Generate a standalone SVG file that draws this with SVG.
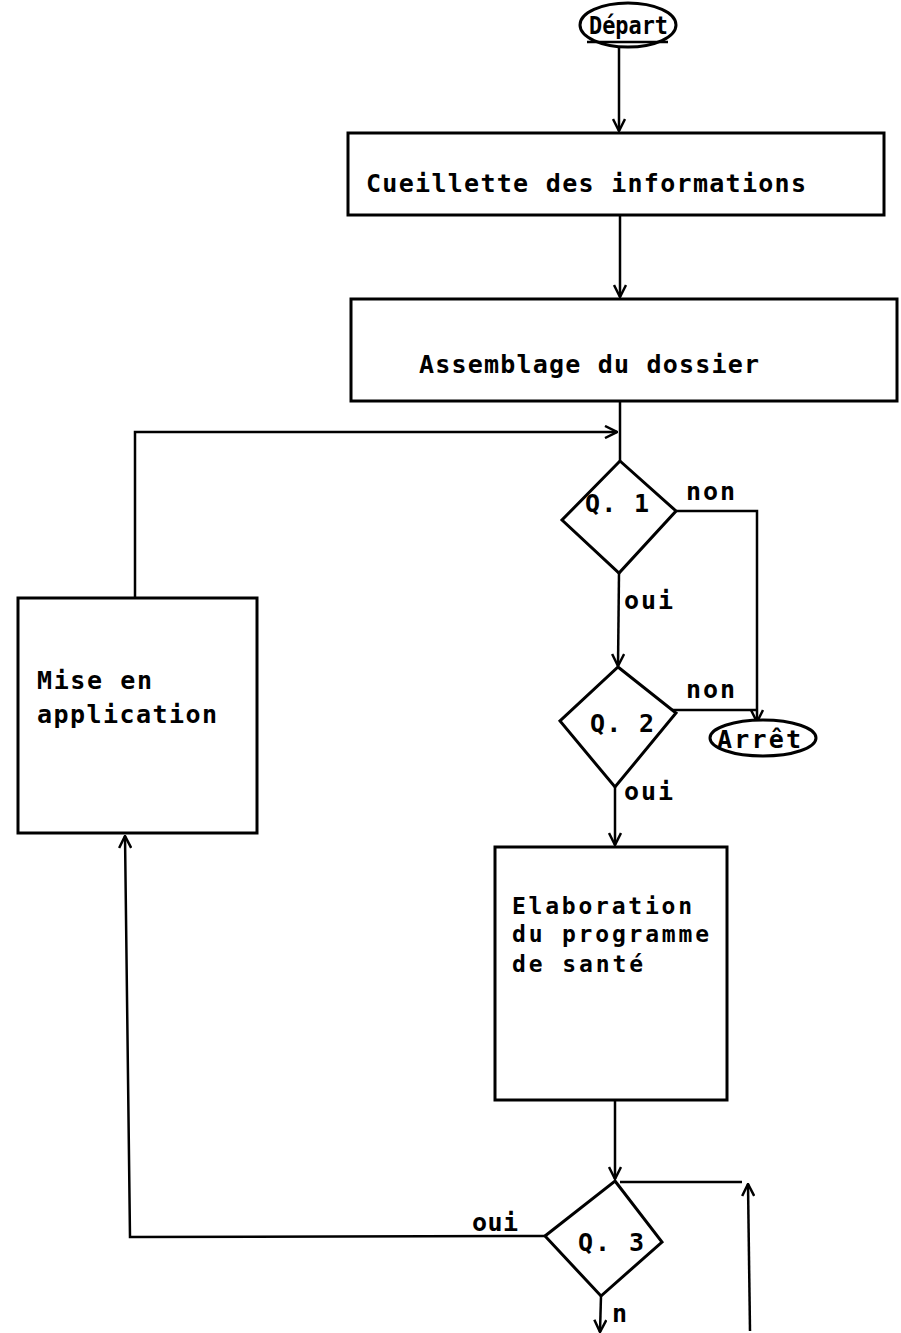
<svg xmlns="http://www.w3.org/2000/svg" width="901" height="1333" viewBox="0 0 901 1333">
<defs>
<marker id="v" viewBox="0 0 14 14" refX="13" refY="7" markerWidth="14" markerHeight="14" markerUnits="userSpaceOnUse" orient="auto"><path d="M1,1 L13,7 L1,13" fill="none" stroke="#000" stroke-width="2.5"/></marker>
</defs>
<style>
.s{fill:#fff;stroke:#000;stroke-width:3}
.c{fill:none;stroke:#000;stroke-width:2.5}
.t{font-family:"DejaVu Sans Mono","Liberation Mono",monospace;font-weight:bold;font-size:25px;fill:#000}
.m{font-size:23px}
</style>
<rect width="901" height="1333" fill="#fff"/>
<g id="connectors">
<path class="c" d="M619,47 L619,131" marker-end="url(#v)"/>
<path class="c" d="M620,215 L620,297" marker-end="url(#v)"/>
<path class="c" d="M620,401 L620,461"/>
<path class="c" d="M135,598 L135,432 L617,432" marker-end="url(#v)"/>
<path class="c" d="M676,511 L757,511 L757,722" marker-end="url(#v)"/>
<path class="c" d="M619,573 L618,666" marker-end="url(#v)"/>
<path class="c" d="M668,710 L757,710"/>
<path class="c" d="M615,787 L615,845" marker-end="url(#v)"/>
<path class="c" d="M615,1100 L615,1179" marker-end="url(#v)"/>
<path class="c" d="M545,1236 L130,1237 L125,836" marker-end="url(#v)"/>
<path class="c" d="M620,1182 L742,1182"/>
<path class="c" d="M750,1331 L748,1184" marker-end="url(#v)"/>
<path class="c" d="M601,1296 L600,1332" marker-end="url(#v)"/>
<text class="t" x="686" y="500" textLength="49">non</text>
<text class="t" x="624" y="609" textLength="49">oui</text>
<text class="t" x="686" y="698" textLength="49">non</text>
<text class="t" x="624" y="800" textLength="49">oui</text>
<text class="t" x="472" y="1231" textLength="46">oui</text>
<text class="t" x="612" y="1322">n</text>
</g>
<g id="depart">
<ellipse class="s" cx="628" cy="25" rx="48" ry="22"/>
<text class="t" x="589" y="34" textLength="79" lengthAdjust="spacingAndGlyphs">Départ</text>
<path class="c" d="M587,42 L668,42"/>
</g>
<g id="cueillette">
<rect class="s" x="348" y="133" width="536" height="82"/>
<text class="t" x="366" y="192" textLength="440">Cueillette des informations</text>
</g>
<g id="assemblage">
<rect class="s" x="351" y="299" width="546" height="102"/>
<text class="t" x="419" y="373" textLength="340">Assemblage du dossier</text>
</g>
<g id="q1">
<polygon class="s" points="620,461 676,511 619,573 562,520"/>
<text class="t" x="585" y="512" textLength="64">Q. 1</text>
</g>
<g id="q2">
<polygon class="s" points="618,667 676,713 615,787 560,721"/>
<text class="t" x="590" y="732" textLength="64">Q. 2</text>
</g>
<g id="arret">
<ellipse class="s" cx="763" cy="738" rx="53" ry="18"/>
<text class="t" x="717" y="748" textLength="84">Arrêt</text>
</g>
<g id="elaboration">
<rect class="s" x="495" y="847" width="232" height="253"/>
<text class="t m" x="512" y="914" textLength="180">Elaboration</text>
<text class="t m" x="512" y="942" textLength="197">du programme</text>
<text class="t m" x="512" y="972" textLength="131">de santé</text>
</g>
<g id="q3">
<polygon class="s" points="615,1181 662,1242 601,1296 545,1236"/>
<text class="t" x="578" y="1251" textLength="66">Q. 3</text>
</g>
<g id="mise">
<rect class="s" x="18" y="598" width="239" height="235"/>
<text class="t" x="37" y="689" textLength="115">Mise en</text>
<text class="t" x="37" y="723" textLength="180">application</text>
</g>
</svg>
